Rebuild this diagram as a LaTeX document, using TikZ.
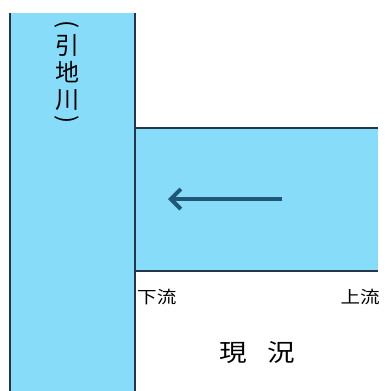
\documentclass[tikz,border=0pt]{standalone}
\usepackage{fontspec}
\newfontfamily\jpfont{Noto Sans CJK JP}
\usetikzlibrary{arrows.meta,positioning}

\definecolor{water}{RGB}{135,221,249}
\definecolor{bankline}{RGB}{35,55,75}
\definecolor{flowcol}{RGB}{30,88,118}

\begin{document}
\begin{tikzpicture}[x=1pt, y=-1pt,
        bank/.style = {draw=bankline, line width=1.4pt},
        jp/.style = {inner sep=0, font=\jpfont\fontsize{#1}{#1}\selectfont, xscale=1.15},
        vchar/.style = {inner sep=0, font=\jpfont\fontsize{24}{24}\selectfont},
        flow/.style = {draw=flowcol, line width=4pt, -{Straight Barb[length=10pt, width=20pt]}}]
    \useasboundingbox (0,0) rectangle (384,391);
    % water
    \fill[water] (10,13) rectangle (135,391);
    \fill[water] (135,128) rectangle (378,271);
    \draw[bank] (10,13) -- (10,391);
    \draw[bank] (135,13) -- (135,391);
    \draw[bank] (135,128) -- (378,128);
    \draw[bank] (135,271) -- (378,271);

    % river name, written top to bottom
    \begin{scope}[node distance=27.5pt, on grid]
        \node[vchar] (lpar) at (67,25) {\rotatebox{-90}{(}};
        \node[vchar] (hiki) at (67,45)     {引};
        \node[vchar, below=of hiki] (chi)  {地};
        \node[vchar, below=of chi]  (kawa) {川};
        \node[vchar] (rpar) at (67,120) {\rotatebox{-90}{)}};
    \end{scope}

    \coordinate (src) at (282,199);
    \coordinate (dst) at (168,199);
    \draw[flow] (src) -- (dst);

    \node[jp=17, anchor=west] (down) at (137,297) {下流};
    \node[jp=17, anchor=east] (up)   at (380,297) {上流};
    \node[jp=24] (title) at (257,353) {現\hspace{18pt}況};
\end{tikzpicture}
\end{document}
